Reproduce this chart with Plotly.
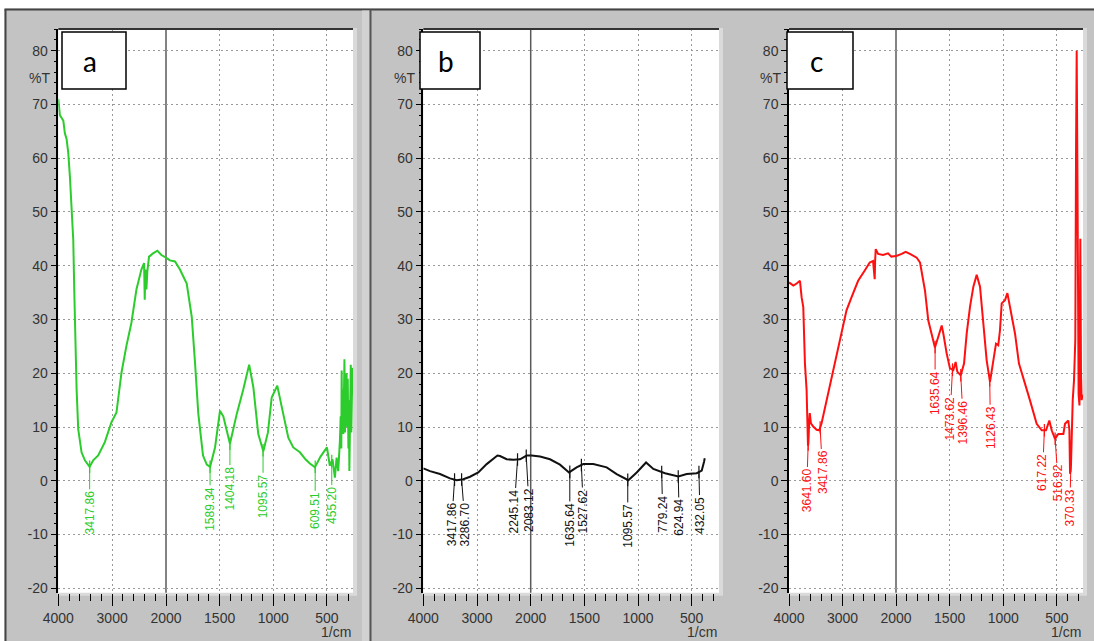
import numpy as np
import plotly.graph_objects as go

W, H = 1094, 641

# ---------------- data ----------------
# Panel a (green)
a_wn = [4000, 3988, 3970, 3907, 3877, 3846, 3815, 3784, 3753, 3722, 3704, 3679, 3660, 3630,
        3568, 3506, 3444, 3418, 3352, 3259, 3136, 3012, 2920, 2827, 2735, 2642, 2549, 2457,
        2407, 2395, 2383, 2364, 2346, 2315, 2241, 2160, 2086, 2000, 1963, 1916, 1870, 1807,
        1760, 1729, 1699, 1655, 1620, 1589, 1543, 1497, 1466, 1404, 1341, 1280, 1233, 1225,
        1186, 1140, 1093, 1050, 1015, 963, 907, 860, 814, 752, 700, 659, 612, 560, 500, 473,
        448, 426, 410, 395, 379, 372, 366, 363, 358, 352, 347, 342, 337, 332, 327, 322, 317,
        312, 306, 300, 296, 291, 285, 278, 273, 268, 263, 258]
a_T = [71.0, 70.0, 68.0, 67.0, 64.6, 63.6, 61.0, 56.5, 51.0, 44.8, 35.6, 23.2, 17.0, 9.6,
       5.3, 3.8, 3.0, 2.6, 3.8, 4.7, 7.2, 10.9, 12.7, 20.1, 25.1, 29.4, 35.6, 39.3,
       40.5, 33.7, 39.3, 35.6, 39.0, 41.7, 42.3, 42.8, 42.0, 41.5, 41.0, 40.8, 39.3, 36.7,
       30.5, 21.8, 12.5, 4.7, 3.0, 2.6, 6.2, 13.0, 12.0, 6.9, 12.4, 17.0, 20.5, 21.6,
       17.4, 8.7, 5.5, 9.0, 15.5, 17.7, 12.4, 8.0, 6.2, 5.3, 4.0, 3.2, 2.5, 4.5, 6.2, 2.8,
       4.0, 0.6, 4.3, 1.8, 7.5, 12.0, 6.0, 20.5, 10.0, 17.0, 8.7, 15.0, 22.6, 9.0, 18.0, 12.4, 20.0,
       10.0, 19.0, 6.0, 15.0, 1.8, 12.0, 21.6, 9.0, 13.6, 21.0, 16.0]

# Panel b (black)
b_wn = [4000, 3875, 3689, 3503, 3378, 3255, 3130, 2976, 2820, 2696, 2620, 2572, 2447, 2323,
        2199, 2075, 1991, 1913, 1820, 1727, 1643, 1572, 1510, 1417, 1292, 1199, 1090, 1012,
        925, 857, 748, 624, 546, 453, 406, 385, 378]
b_T = [2.3, 1.8, 1.25, 0.45, 0.1, 0.3, 0.75, 1.55, 3.1, 4.0, 4.7, 4.6, 4.0, 3.9,
       4.0, 4.7, 4.7, 4.5, 4.0, 3.0, 1.55, 2.5, 3.1, 3.1, 2.5, 1.25, 0.1, 1.55,
       3.4, 2.2, 1.4, 0.8, 1.25, 1.4, 1.9, 3.5, 4.2]

# Panel c (red)
c_wn = [4000, 3919, 3857, 3795, 3764, 3733, 3702, 3671, 3645, 3638, 3621, 3612, 3590, 3547,
        3484, 3435, 3391, 3329, 3236, 3143, 3050, 2988, 2925, 2832, 2708, 2584, 2491, 2429,
        2398, 2390, 2379, 2335, 2242, 2149, 2087, 1997, 1947, 1910, 1870, 1807, 1776, 1730,
        1699, 1667, 1637, 1606, 1574, 1559, 1528, 1497, 1466, 1444, 1429, 1397, 1366, 1341,
        1310, 1279, 1248, 1217, 1186, 1155, 1124, 1093, 1068, 1047, 1031, 1015, 984, 962,
        938, 891, 854, 814, 752, 689, 642, 602, 571, 549, 518, 487, 440, 425, 394, 384,
        378, 369, 353, 341, 329, 322, 316, 310, 304, 298, 290, 282, 276, 270, 262]
c_T = [36.9, 36.3, 36.7, 37.2, 34.1, 32.3, 21.8, 16.9, 6.5, 7.0, 11.3, 12.6, 10.7, 10.1,
       9.5, 9.4, 10.7, 13.5, 17.5, 21.8, 26.1, 29.2, 31.7, 34.1, 37.2, 39.1, 40.6, 40.9,
       37.5, 41.0, 43.1, 42.2, 42.0, 42.3, 41.7, 41.8, 42.2, 42.6, 42.2, 41.5, 40.6, 35.4,
       29.8, 27.4, 24.8, 26.8, 28.9, 27.4, 23.7, 20.9, 20.6, 22.1, 20.3, 19.6, 21.8, 27.4,
       32.4, 36.1, 38.3, 36.1, 29.3, 22.4, 18.4, 22.4, 25.5, 25.2, 28.0, 33.0, 33.6, 34.9,
       32.4, 27.4, 21.8, 19.3, 15.0, 10.6, 9.4, 9.4, 11.2, 9.4, 7.8, 8.7, 8.7, 10.6, 11.2, 9.4,
       1.3, 3.1, 15.0, 18.7, 26.2, 62.0, 80.0, 60.0, 30.0, 16.0, 14.0, 45.0, 20.0, 15.0, 16.0]

a_peaks = [3417.86, 1589.34, 1404.18, 1095.57, 609.51, 455.20]
b_peaks = [3417.86, 3286.70, 2245.14, 2083.12, 1635.64, 1527.62, 1095.57, 779.24, 624.94, 432.05]
c_peaks = [3641.60, 3417.86, 1635.64, 1473.62, 1396.46, 1126.43, 617.22, 516.92, 370.33]

x_ticks_hi = [4000, 3000]
x_ticks_lo = [2000, 1500, 1000, 500]
y_ticks = [-20, -10, 0, 10, 20, 30, 40, 50, 60, 70, 80]
panel_letters = ["a", "b", "c"]

# ---------------- style / geometry ----------------
GREY = "#c3c3c3"
TXT = "#333333"
FONT = "Liberation Sans, Arial, sans-serif"
TOP, BOT = 29.0, 592.7
Y_RANGE = [-20.82, 84.04]
PX_PER_1000_LO = 107.3
GRID = "#999999"
GDASH = "2px,3px"

panels = [
    dict(x4000=58.3, x2000=166.0, right=353.0, color="#2ccc2c", wn=a_wn, T=a_T, peaks=a_peaks,
         ax=[0, 0, 0, 0, 0, 0], ay=[46, 42, 45, 46, 44, 44], box=(62, 126)),
    dict(x4000=423.3, x2000=530.7, right=719.0, color="#111111", wn=b_wn, T=b_T, peaks=b_peaks,
         ax=[-3, 3.5, -3.5, 3, 0, 2, 0, 1, 1, 1], ay=[45, 45, 52, 54, 53, 46, 46, 42, 41, 43],
         box=(420, 480)),
    dict(x4000=789.0, x2000=896.0, right=1083.0, color="#ff1010", wn=c_wn, T=c_T, peaks=c_peaks,
         ax=[-1.5, 2.4, 0, -2.5, 2.5, 0.7, -1.7, 3, -1], ay=[46, 45, 46, 49, 47, 47.5, 42, 44.5, 42],
         box=(787, 853)),
]


def px(x):
    return x / W


def py(y):
    return 1 - y / H


fig = go.Figure()
layout = dict(
    width=W, height=H, margin=dict(l=0, r=0, t=0, b=0, pad=0, autoexpand=False),
    paper_bgcolor=GREY, plot_bgcolor="white", showlegend=False,
    font=dict(family=FONT, size=14, color=TXT),
)
shapes = []
annotations = []

# background decorations (outside plot areas)
shapes.append(dict(type="rect", xref="paper", yref="paper", x0=0, x1=1, y0=py(8.5), y1=1,
                   fillcolor="white", line=dict(width=0), layer="below"))
shapes.append(dict(type="rect", xref="paper", yref="paper", x0=0, x1=px(4.5), y0=0, y1=1,
                   fillcolor="white", line=dict(width=0), layer="below"))
shapes.append(dict(type="line", xref="paper", yref="paper", x0=px(4.5), x1=1, y0=py(9.5), y1=py(9.5),
                   line=dict(color="#444444", width=2), layer="below"))
shapes.append(dict(type="line", xref="paper", yref="paper", x0=px(5.5), x1=px(5.5), y0=0, y1=py(9.5),
                   line=dict(color="#444444", width=2), layer="below"))
shapes.append(dict(type="rect", xref="paper", yref="paper", x0=px(362), x1=px(369.5), y0=0, y1=py(10.5),
                   fillcolor="#d2d2d2", line=dict(width=0), layer="below"))
shapes.append(dict(type="line", xref="paper", yref="paper", x0=px(370.5), x1=px(370.5), y0=0, y1=py(9.5),
                   line=dict(color="#555555", width=2), layer="below"))

for i, p in enumerate(panels):
    xu, xl, ya = 2 * i + 1, 2 * i + 2, i + 1
    xu_name = "x" if xu == 1 else f"x{xu}"
    xl_name = f"x{xl}"
    y_name = "y" if ya == 1 else f"y{ya}"
    xu_key = "xaxis" if xu == 1 else f"xaxis{xu}"
    xl_key = f"xaxis{xl}"
    y_key = "yaxis" if ya == 1 else f"yaxis{ya}"

    lo_end = 2000 - (p["right"] - p["x2000"]) / PX_PER_1000_LO * 1000
    common_x = dict(
        anchor=y_name, ticks="outside", ticklen=12, tickwidth=1, tickcolor="#000",
        showline=False, zeroline=False, showgrid=True, gridcolor=GRID, gridwidth=1,
        griddash=GDASH, tickfont=dict(family=FONT, size=14, color=TXT), tickmode="array",
        fixedrange=True, automargin=False,
    )
    layout[xu_key] = dict(common_x, domain=[px(p["x4000"]), px(p["x2000"])], range=[4000, 2000],
                          tickvals=x_ticks_hi, ticktext=[str(v) for v in x_ticks_hi],
                          minor=dict(tickmode="linear", tick0=0, dtick=200, ticks="outside",
                                     ticklen=7, tickcolor="#000", showgrid=False))
    layout[xl_key] = dict(common_x, domain=[px(p["x2000"]), px(p["right"])], range=[2000, lo_end],
                          tickvals=x_ticks_lo, ticktext=[str(v) for v in x_ticks_lo],
                          minor=dict(tickmode="linear", tick0=0, dtick=100, ticks="outside",
                                     ticklen=7, tickcolor="#000", showgrid=False))
    layout[y_key] = dict(
        anchor=xu_name, domain=[py(BOT), py(TOP)], range=Y_RANGE, tickmode="array",
        tickvals=y_ticks, ticktext=[str(v) for v in y_ticks], ticks="outside", ticklen=6,
        tickcolor="#000", showline=True, linecolor="#000", linewidth=1.5, zeroline=False,
        showgrid=True, gridcolor=GRID, gridwidth=1, griddash=GDASH,
        tickfont=dict(family=FONT, size=14, color=TXT), fixedrange=True, automargin=False,
        minor=dict(tickmode="linear", tick0=0, dtick=2, ticks="outside", ticklen=3,
                   tickcolor="#000", showgrid=False),
    )

    # light frame behind plot area, then white plot field
    shapes.append(dict(type="rect", xref="paper", yref="paper", x0=px(p["x4000"] - 1),
                       x1=px(p["right"] + 4), y0=py(BOT + 3), y1=py(TOP - 1),
                       fillcolor="#dadada", line=dict(width=0), layer="below"))
    shapes.append(dict(type="rect", xref="paper", yref="paper", x0=px(p["x4000"]),
                       x1=px(p["right"]), y0=py(BOT), y1=py(TOP),
                       fillcolor="white", line=dict(width=0), layer="below"))
    # top dark edge
    shapes.append(dict(type="line", xref="paper", yref="paper", x0=px(p["x4000"]),
                       x1=px(p["right"]), y0=py(TOP), y1=py(TOP),
                       line=dict(color="#333333", width=2)))
    # solid line at 2000 (boundary of the two scale halves)
    shapes.append(dict(type="line", xref="paper", yref="paper", x0=px(p["x2000"]), x1=px(p["x2000"]),
                       y0=py(BOT), y1=py(TOP), line=dict(color="#5a5a5a", width=1.5), layer="below"))

    # spectrum split over the two scale halves
    wn = np.array(p["wn"], dtype=float)
    T = np.array(p["T"], dtype=float)
    last_hi = np.where(wn >= 2000)[0].max()
    up = slice(0, last_hi + 2)
    lo = slice(last_hi, len(wn))
    fig.add_trace(go.Scatter(x=wn[up], y=T[up], xaxis=xu_name, yaxis=y_name, mode="lines",
                             line=dict(color=p["color"], width=2), hoverinfo="skip"))
    fig.add_trace(go.Scatter(x=wn[lo], y=T[lo], xaxis=xl_name, yaxis=y_name, mode="lines",
                             line=dict(color=p["color"], width=2), hoverinfo="skip"))

    # peak markers + labels
    wn_asc, T_asc = wn[::-1], T[::-1]
    pk = np.array(p["peaks"], dtype=float)
    pk_T = np.interp(pk, wn_asc, T_asc)
    for side, mask in ((xu_name, pk >= 2000), (xl_name, pk < 2000)):
        if mask.any():
            fig.add_trace(go.Scatter(x=pk[mask], y=pk_T[mask], xaxis=side, yaxis=y_name,
                                     mode="markers", hoverinfo="skip",
                                     marker=dict(symbol="line-ns", size=9,
                                                 line=dict(color=p["color"], width=1.2))))
    for k, (w, t) in enumerate(zip(pk, pk_T)):
        annotations.append(dict(
            x=w, y=t, xref=xu_name if w >= 2000 else xl_name, yref=y_name,
            text=f"{w:.2f}", textangle=-90, showarrow=True, arrowhead=0, arrowwidth=1,
            arrowcolor=p["color"], ax=p["ax"][k], ay=p["ay"][k], standoff=0,
            font=dict(family=FONT, size=12, color=p["color"]),
        ))

    # %T and 1/cm
    annotations.append(dict(x=px(p["x4000"] - 6), y=75, xref="paper", yref=y_name, text="%T",
                            showarrow=False, xanchor="right", yanchor="middle",
                            font=dict(family=FONT, size=14, color=TXT)))
    annotations.append(dict(x=px(p["right"]), y=py(632), xref="paper", yref="paper", text="1/cm",
                            showarrow=False, xanchor="right", yanchor="middle",
                            font=dict(family=FONT, size=14, color=TXT)))

    # letter box
    bx0, bx1 = p["box"]
    shapes.append(dict(type="rect", xref="paper", yref="paper", x0=px(bx0), x1=px(bx1),
                       y0=py(89), y1=py(32), fillcolor="white", line=dict(color="#000", width=1.5)))
    annotations.append(dict(x=px((bx0 + bx1) / 2 - 4), y=py(61), xref="paper", yref="paper",
                            text=panel_letters[i], showarrow=False, xanchor="center", yanchor="middle",
                            font=dict(family="Lato, Open Sans, sans-serif", size=28, color="#000")))

layout["shapes"] = shapes
layout["annotations"] = annotations
fig.update_layout(**layout)
fig.write_html("out.html")
